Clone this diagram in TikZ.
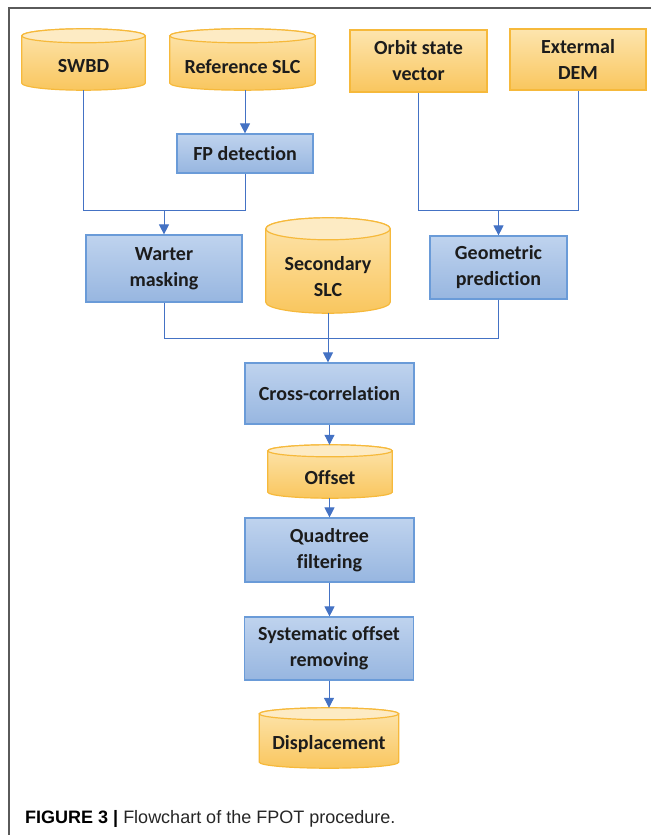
\documentclass[tikz,border=0pt]{standalone}
\usepackage{fontspec}
\newfontfamily\boxfont[Ligatures=NoCommon]{Carlito}
\newfontfamily\capfont{Liberation Sans}
\usetikzlibrary{arrows.meta,calc,backgrounds}

\definecolor{frameline}{HTML}{5A5A5A}
\definecolor{flowblue}{HTML}{4472C4}
\definecolor{dborange}{HTML}{F6B93B}
\definecolor{dbtop}{HTML}{FDE5AE}
\definecolor{dbbot}{HTML}{F9C65E}
\definecolor{dbend}{HTML}{FDEBC4}
\definecolor{procline}{HTML}{6A9BD8}
\definecolor{proctop}{HTML}{BFD3EE}
\definecolor{procbot}{HTML}{97B6E0}
\definecolor{ink}{HTML}{1C1C1C}

\tikzset{
  boxtext/.style={font=\boxfont\bfseries\fontsize{20}{26}\selectfont, text=ink, align=center, inner sep=0pt},
  proc/.style={boxtext, draw=procline, line width=1.2pt, top color=proctop, bottom color=procbot},
  src/.style={boxtext, draw=dborange, line width=1.2pt, top color=dbtop, bottom color=dbbot},
  db/.style={boxtext},
  drumbody/.style={draw=dborange, line width=1.2pt, top color=dbtop, bottom color=dbbot},
  drumend/.style={draw=dborange, line width=1.2pt, fill=dbend},
  link/.style={draw=flowblue, line width=1pt},
  flow/.style={link, -{Triangle[width=10pt,length=10pt]}, flowblue},
}

% cylinder round a db node: #1 node, #2 end radius
\newcommand{\drum}[2]{%
  \path[drumbody] let \p1=(#1.north west), \p2=(#1.south east), \n1={(\x2-\x1)/2} in
    (\x1,\y1+#2) -- (\x1,\y2+#2) arc[start angle=180,end angle=360,x radius=\n1,y radius=#2]
    -- (\x2,\y1+#2) arc[start angle=0,end angle=180,x radius=\n1,y radius=#2] -- cycle;
  \path[drumend] let \p1=(#1.north west), \p2=(#1.north east), \n1={(\x2-\x1)/2} in
    ($(\p1)!0.5!(\p2)+(0,#2)$) ellipse [x radius=\n1, y radius=#2];
}

\begin{document}
\begin{tikzpicture}[x=1pt,y=1pt]
\useasboundingbox (0,0) rectangle (651,-835);

\draw[frameline, line width=1.5pt] (651,-8) -- (9,-8) -- (9,-835);

% inputs
\node[db, minimum width=123, minimum height=47] (swbd) at (83.5,-66.5) {SWBD};
\node[db, minimum width=145, minimum height=47] (refslc) at (242.5,-66.5) {Reference SLC};
\node[src, minimum width=137, minimum height=62] (orbit) at (418.5,-61) {Orbit state\\vector};
\node[src, minimum width=136, minimum height=61] (dem) at (578,-59.5) {Extermal\\DEM};

\node[proc, minimum width=136, minimum height=39] (fp) at (245,-153.5) {FP detection};
\node[proc, minimum width=156, minimum height=67] (warter) at (164,-268.5) {Warter\\masking};
\node[db, minimum width=124, minimum height=73] (secslc) at (328,-276.5) {Secondary\\SLC};
\node[proc, minimum width=137, minimum height=63] (geom) at (498.5,-267.5) {Geometric\\prediction};

\node[proc, minimum width=169, minimum height=61] (xcorr) at (329.5,-393.5) {Cross-correlation};
\node[db, minimum width=124, minimum height=41] (offset) at (330,-477.5) {Offset};
\node[proc, minimum width=169, minimum height=64] (quad) at (329.5,-550) {Quadtree\\filtering};
\node[proc, minimum width=169, minimum height=63] (sysoff) at (329,-648.5) {Systematic offset\\removing};
\node[db, minimum width=139, minimum height=48] (disp) at (329,-744) {Displacement};

\begin{scope}[on background layer]
\drum{swbd}{7pt}
\drum{refslc}{7pt}
\drum{secslc}{11pt}
\drum{offset}{6pt}
\drum{disp}{6pt}
\end{scope}

\coordinate (j1) at (164,-210);
\coordinate (j2) at (498.5,-210);
\coordinate (j3) at (328,-338);

\draw[flow] (refslc.south -| fp.north) -- (fp.north);
\draw[link] (swbd.south) |- (j1);
\draw[link] (fp.south) |- (j1);
\draw[flow] (j1) -- (warter.north);

\draw[link] (orbit.south) |- (j2);
\draw[link] (dem.south) |- (j2);
\draw[flow] (j2) -- (geom.north);

\draw[link] (warter.south) |- (j3);
\draw[link] (geom.south) |- (j3);
\draw[flow] (secslc.south) -- (secslc.south |- xcorr.north);

\draw[flow] (xcorr.south) -- ([yshift=12pt]xcorr.south |- offset.north);
\draw[flow] (offset.south -| quad.north) -- (quad.north);
\draw[flow] (quad.south) -- (quad.south |- sysoff.north);
\draw[flow] (sysoff.south) -- ([yshift=12pt]disp.north);

\node[anchor=base west, inner sep=0pt, font=\capfont\fontsize{18}{22}\selectfont] (caption) at (25,-823)
  {\textbf{FIGURE 3 |} \textcolor{black!85}{Flowchart of the FPOT procedure.}};

\end{tikzpicture}
\end{document}
